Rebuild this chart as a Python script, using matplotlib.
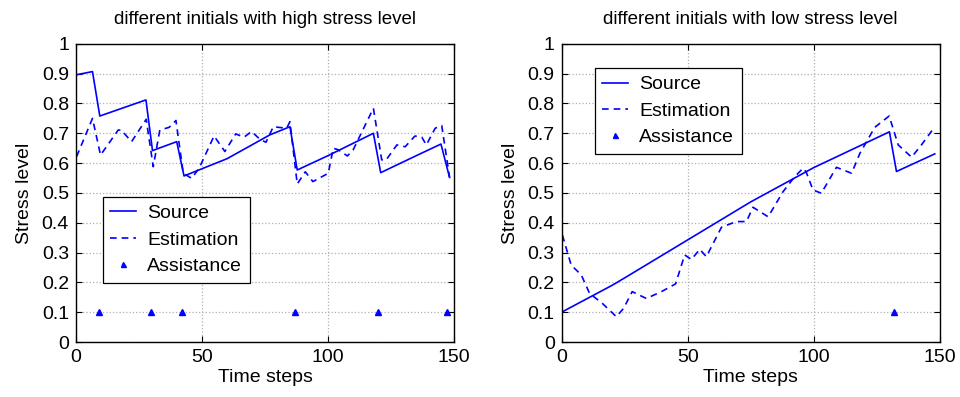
import matplotlib.pyplot as plt

plt.rcParams['font.family'] = ['Liberation Sans', 'DejaVu Sans']

# left panel: high stress level
high_src_t = [0, 6.6, 9.5, 27.8, 30.4, 40, 42.9, 60, 77, 84.9, 87.8, 100, 118, 120.9, 135, 144.8, 148.2]
high_src_v = [0.896, 0.907, 0.758, 0.812, 0.642, 0.672, 0.557, 0.615, 0.695, 0.722, 0.577, 0.625, 0.70, 0.568, 0.625, 0.664, 0.552]
high_est_t = [0.3, 6.6, 9.8, 16.8, 18, 22.1, 27.9, 30.7, 33.3, 37, 39.7, 42.6, 45.9, 48.9, 54.8, 59.1, 63.4,
              66.7, 69.7, 73, 75.4, 78.3, 83.6, 84.9, 87.8, 91, 94, 100.1, 102.1, 104, 107.7, 110, 118,
              121.3, 123, 127.3, 130.6, 134.5, 137.2, 139, 142.5, 145.1, 148.2]
high_est_v = [0.622, 0.75, 0.627, 0.711, 0.711, 0.672, 0.747, 0.588, 0.711, 0.72, 0.743, 0.566, 0.549, 0.583,
              0.691, 0.639, 0.698, 0.687, 0.706, 0.68, 0.67, 0.722, 0.717, 0.739, 0.53, 0.571, 0.538, 0.566,
              0.65, 0.645, 0.624, 0.645, 0.784, 0.611, 0.61, 0.661, 0.655, 0.691, 0.687, 0.661, 0.717, 0.726, 0.553]
high_assist_t = [9, 30, 42, 87, 120, 147]
high_assist_v = [0.1, 0.1, 0.1, 0.1, 0.1, 0.1]

# right panel: low stress level
low_src_t = [0, 20, 25, 75, 100, 130, 132.8, 148]
low_src_v = [0.10, 0.19, 0.215, 0.47, 0.585, 0.705, 0.572, 0.631]
low_est_t = [0.3, 3.8, 7.8, 11.1, 16.1, 21.7, 24.6, 28, 33.6, 39.6, 45.2, 48.8, 51.5, 54.8, 57.4, 63.4, 69.3,
             73.3, 75.9, 81.9, 87.8, 92.5, 95.8, 97, 99.7, 103, 109, 115, 118.3, 124.2, 129.9, 133.5, 138.8,
             142.7, 148]
low_est_v = [0.359, 0.258, 0.225, 0.163, 0.13, 0.085, 0.113, 0.169, 0.146, 0.169, 0.195, 0.292, 0.277, 0.311,
             0.286, 0.385, 0.404, 0.404, 0.452, 0.42, 0.504, 0.555, 0.583, 0.57, 0.51, 0.499, 0.586, 0.566,
             0.633, 0.72, 0.758, 0.661, 0.62, 0.661, 0.722]
low_assist_t = [132]
low_assist_v = [0.1]

titles = ['different initials with high stress level', 'different initials with low stress level']
yticks = [0, 0.1, 0.2, 0.3, 0.4, 0.5, 0.6, 0.7, 0.8, 0.9, 1]
ytick_labels = ['0', '0.1', '0.2', '0.3', '0.4', '0.5', '0.6', '0.7', '0.8', '0.9', '1']
xticks = [0, 50, 100, 150]

fig = plt.figure(figsize=(9.6, 3.97), dpi=100)
ax1 = fig.add_axes([0.079, 0.1385, 0.394, 0.751])
ax2 = fig.add_axes([0.585, 0.1385, 0.394, 0.751])

panels = [
    (ax1, high_src_t, high_src_v, high_est_t, high_est_v, high_assist_t, high_assist_v, titles[0]),
    (ax2, low_src_t, low_src_v, low_est_t, low_est_v, low_assist_t, low_assist_v, titles[1]),
]

for ax, st, sv, et, ev, at, av, title in panels:
    ax.plot(st, sv, '-', color='blue', lw=1.2, label='Source')
    ax.plot(et, ev, '--', color='blue', lw=1.2, dashes=(4, 3), label='Estimation')
    ax.plot(at, av, '^', color='blue', ms=4.5, linestyle='none', label='Assistance')
    ax.set_xlim(0, 150)
    ax.set_ylim(0, 1)
    ax.set_xticks(xticks)
    ax.set_yticks(yticks)
    ax.set_yticklabels(ytick_labels)
    ax.tick_params(direction='in', top=True, right=True, labelsize=14, length=4, pad=5)
    ax.grid(True, linestyle=':', color='#b0b0b0', lw=0.9)
    ax.set_xlabel('Time steps', fontsize=14, labelpad=2)
    ax.set_ylabel('Stress level', fontsize=14, labelpad=6)
    ax.set_title(title, fontsize=13.5, pad=14)
    for s in ax.spines.values():
        s.set_linewidth(1.0)

leg_kw = dict(fontsize=14, fancybox=False, edgecolor='black', framealpha=1, borderaxespad=0,
              handlelength=1.3, borderpad=0.4, labelspacing=0.45, handletextpad=0.6, markerscale=0.8)
l1 = ax1.legend(loc='upper left', bbox_to_anchor=(0.071, 0.487), **leg_kw)
l2 = ax2.legend(loc='upper left', bbox_to_anchor=(0.087, 0.919), **leg_kw)
for l in (l1, l2):
    l.get_frame().set_linewidth(0.9)

fig.savefig('out.png', dpi=100)
